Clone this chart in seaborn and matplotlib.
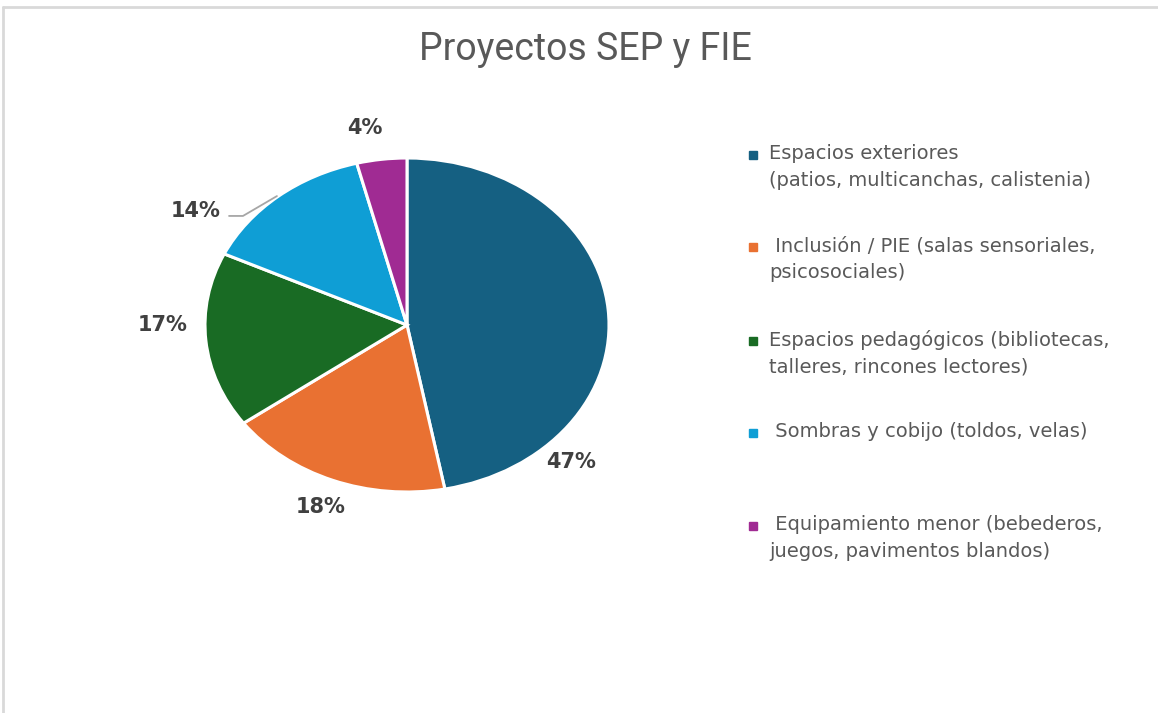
import matplotlib
matplotlib.use("Agg")
import matplotlib.pyplot as plt
from matplotlib.lines import Line2D
from matplotlib.patches import Rectangle
import seaborn as sns

# Project categories and their share of the total (%)
categories = [
    "Espacios exteriores\n(patios, multicanchas, calistenia)",
    " Inclusión / PIE (salas sensoriales,\npsicosociales)",
    "Espacios pedagógicos (bibliotecas,\ntalleres, rincones lectores)",
    " Sombras y cobijo (toldos, velas)",
    " Equipamiento menor (bebederos,\njuegos, pavimentos blandos)",
]
shares = [47, 18, 17, 14, 4]
colors = ["#156082", "#E97132", "#196B24", "#0F9ED5", "#A02B93"]
title = "Proyectos SEP y FIE"

sns.set_theme(style="white")
plt.rcParams["font.family"] = ["DejaVu Sans"]

W, H = 1158, 713
fig = plt.figure(figsize=(W / 100, H / 100), dpi=100)
fig.patch.set_facecolor("white")

# pie area (pixel box of the ellipse)
cx, cy, rx, ry = 407, 325, 202, 167
ax = fig.add_axes([(cx - rx) / W, (H - cy - ry) / H, 2 * rx / W, 2 * ry / H])
wedges, _ = ax.pie(
    shares, colors=colors, startangle=90, counterclock=False,
    wedgeprops=dict(edgecolor="white", linewidth=2.2),
)
ax.set_aspect("auto")
ax.set_xlim(-1, 1)
ax.set_ylim(-1, 1)
ax.axis("off")

# percentage labels, offsets in pie-radius units
label_pos = [(0.81, -0.82), (-0.43, -1.09), (-1.21, 0.0), (-1.045, 0.68), (-0.21, 1.18)]
for val, (lx, ly) in zip(shares, label_pos):
    ax.text(lx, ly, f"{val}%", ha="center", va="center", fontsize=15,
            fontweight="bold", color="#404040")

# leader line for the 14% label
ax.add_line(Line2D([-0.881, -0.812, -0.644], [0.653, 0.653, 0.772],
                   color="#a6a6a6", linewidth=1.3))

# title
fig.text(585 / W, 1 - 50 / H, title, ha="center", va="center",
         fontsize=27, color="#595959", family="Roboto")

# legend
legend_y = [155, 247, 341, 433, 526]
for lab, col, y in zip(categories, colors, legend_y):
    fig.patches.append(Rectangle((749 / W, 1 - (y + 4) / H), 8 / W, 8 / H,
                                 transform=fig.transFigure, color=col))
    fig.text(769 / W, 1 - (y - 11) / H, lab, ha="left", va="top",
             fontsize=14, color="#595959", linespacing=1.52)

# chart border
fig.add_artist(Line2D([3 / W, 1], [1 - 7 / H, 1 - 7 / H], color="#d9d9d9",
                      linewidth=2, transform=fig.transFigure))
fig.add_artist(Line2D([3 / W, 3 / W], [0, 1 - 7 / H], color="#d9d9d9",
                      linewidth=2, transform=fig.transFigure))

fig.savefig("out.png", dpi=100)
